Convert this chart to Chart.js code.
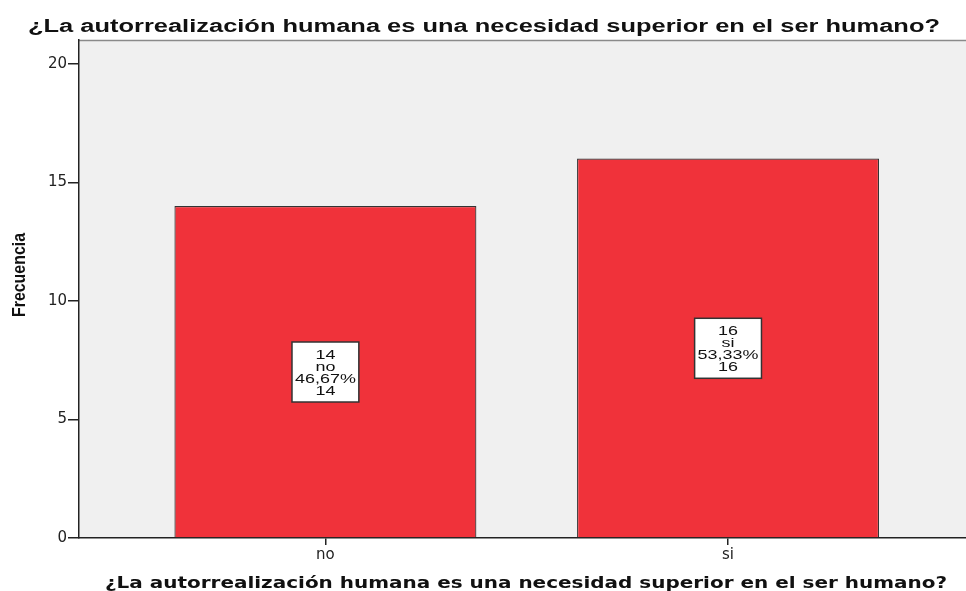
<!DOCTYPE html>
<html>
<head>
<meta charset="utf-8">
<script src="https://cdn.jsdelivr.net/npm/chart.js@4/dist/chart.umd.min.js"></script>
<style>
  html, body { margin: 0; padding: 0; background: #fff; }
  #wrap { width: 966px; height: 591px; }
</style>
</head>
<body>
<div id="wrap"><canvas id="freqChart" width="966" height="591"></canvas></div>
<script>
const categories = ["no", "si"];
const frequencies = [14, 16];
const yTickValues = [0, 5, 10, 15, 20];
const chartTitle = "¿La autorrealización humana es una necesidad superior en el ser humano?";
const yAxisTitle = "Frecuencia";

const total = frequencies.reduce((a, b) => a + b, 0);
const pctLabels = frequencies.map(v => (v / total * 100).toFixed(2).replace(".", ",") + "%");

// draws text squeezed/stretched horizontally (SPSS export looks stretched)
function drawStretched(ctx, text, x, y, font, opts) {
    ctx.save();
    ctx.font = font;
    ctx.textAlign = "center";
    ctx.textBaseline = opts.baseline || "alphabetic";
    ctx.fillStyle = opts.color || "#111";
    let sx = opts.sx || 1;
    if (opts.width) {
        sx = opts.width / ctx.measureText(text).width;
    }
    ctx.translate(x, y);
    if (opts.rotate) ctx.rotate(opts.rotate);
    ctx.scale(sx, 1);
    ctx.fillText(text, 0, 0);
    ctx.restore();
}

const backgroundPlugin = {
    id: "plotBackground",
    beforeDraw(chart) {
        const ctx = chart.ctx;
        const a = chart.chartArea;
        ctx.save();
        ctx.fillStyle = "#f0f0f0";
        ctx.fillRect(a.left, a.top, a.right - a.left, a.bottom - a.top);
        ctx.strokeStyle = "#8a8a8a";
        ctx.lineWidth = 1.5;
        ctx.beginPath();
        ctx.moveTo(a.left, a.top + 0.5);
        ctx.lineTo(a.right, a.top + 0.5);
        ctx.stroke();
        ctx.restore();
    }
};

const labelsPlugin = {
    id: "boxLabels",
    afterDatasetsDraw(chart) {
        const ctx = chart.ctx;
        const meta = chart.getDatasetMeta(0);
        const yScale = chart.scales.y;
        const font = "13px 'Liberation Sans', Arial, sans-serif";
        const sx = 1.38;
        const lineH = 12;
        meta.data.forEach((bar, i) => {
            const lines = [String(frequencies[i]), categories[i], pctLabels[i], String(frequencies[i])];
            const cx = bar.x;
            const cy = yScale.getPixelForValue(frequencies[i] / 2);
            ctx.save();
            ctx.font = font;
            const w = Math.max(...lines.map(l => ctx.measureText(l).width)) * sx + 6;
            const h = lines.length * lineH + 12;
            ctx.fillStyle = "#ffffff";
            ctx.fillRect(cx - w / 2, cy - h / 2, w, h);
            ctx.strokeStyle = "#333333";
            ctx.lineWidth = 1.5;
            ctx.strokeRect(cx - w / 2, cy - h / 2, w, h);
            ctx.restore();
            lines.forEach((l, k) => {
                const ly = cy - (lines.length * lineH) / 2 + lineH * k + lineH / 2;
                drawStretched(ctx, l, cx, ly + 1, font, { sx: sx, baseline: "middle", color: "#111" });
            });
        });
    }
};

const titlesPlugin = {
    id: "stretchedTitles",
    afterDraw(chart) {
        const ctx = chart.ctx;
        drawStretched(ctx, chartTitle, 484, 32, "bold 18px 'Liberation Sans', Arial, sans-serif", { width: 912 });
        drawStretched(ctx, chartTitle, 526, 588, "bold 16px 'DejaVu Sans', Verdana, sans-serif", { width: 842 });
        drawStretched(ctx, yAxisTitle, 25, 275, "bold 18px 'Liberation Sans Narrow', 'Liberation Sans', Arial, sans-serif",
            { width: 84, rotate: -Math.PI / 2 });
    }
};

const ctx = document.getElementById("freqChart");

new Chart(ctx, {
    type: "bar",
    data: {
        datasets: [{
            data: frequencies.map((v, i) => ({ x: i + 1, y: v })),
            backgroundColor: "#f0323a",
            borderColor: "#333333",
            borderWidth: 1.2,
            barPercentage: 0.75,
            categoryPercentage: 1
        }]
    },
    options: {
        responsive: false,
        animation: false,
        devicePixelRatio: 1,
        layout: { padding: { left: 0, right: 0, top: 40, bottom: 0 } },
        plugins: {
            legend: { display: false },
            tooltip: { enabled: false },
            title: { display: false }
        },
        scales: {
            x: {
                type: "linear",
                min: 0.388,
                max: 2.591,
                offset: false,
                afterBuildTicks(scale) {
                    scale.ticks = categories.map((c, i) => ({ value: i + 1 }));
                },
                afterFit(scale) {
                    scale.height = 53;
                },
                ticks: {
                    autoSkip: false,
                    maxRotation: 0,
                    padding: 1,
                    color: "#222",
                    font: { family: "'DejaVu Sans', sans-serif", size: 15 },
                    callback: value => categories[value - 1]
                },
                grid: {
                    offset: false,
                    drawOnChartArea: false,
                    drawTicks: true,
                    tickLength: 7,
                    color: "#222",
                    lineWidth: 1.5
                },
                border: { display: true, color: "#222", width: 1.5 }
            },
            y: {
                min: 0,
                max: 21,
                afterBuildTicks(scale) {
                    scale.ticks = yTickValues.map(v => ({ value: v }));
                },
                afterFit(scale) {
                    scale.width = 79;
                },
                ticks: {
                    padding: 1,
                    color: "#222",
                    font: { family: "'DejaVu Sans', sans-serif", size: 15 }
                },
                grid: {
                    drawOnChartArea: false,
                    drawTicks: true,
                    tickLength: 11,
                    color: "#222",
                    lineWidth: 1.5
                },
                border: { display: true, color: "#222", width: 1.5 }
            }
        }
    },
    plugins: [backgroundPlugin, labelsPlugin, titlesPlugin]
});
</script>
</body>
</html>
